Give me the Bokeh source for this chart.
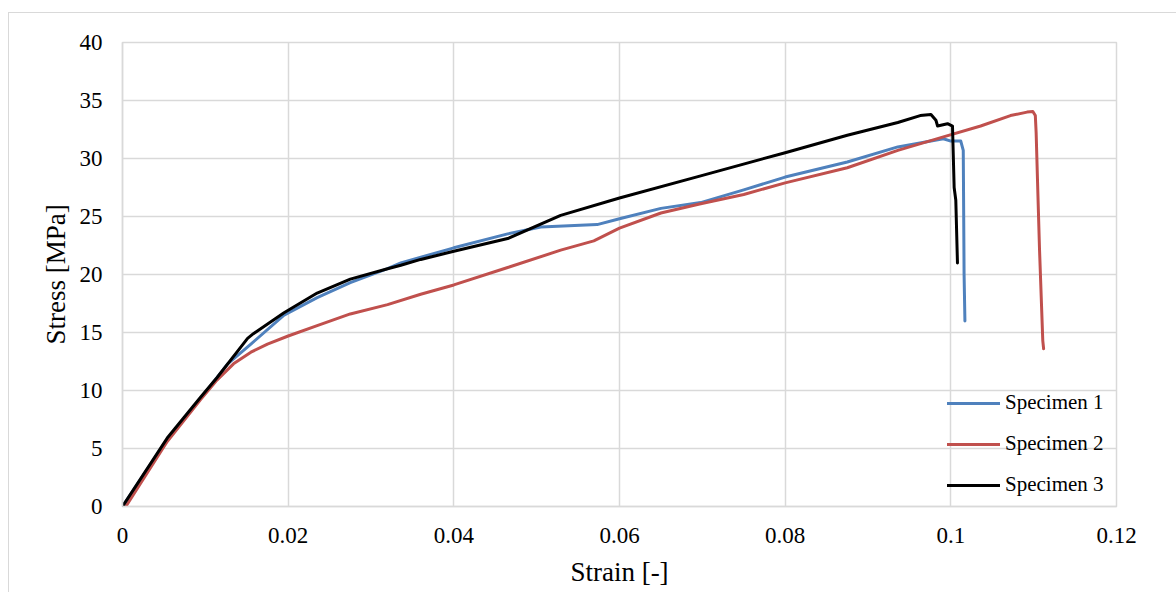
from bokeh.plotting import figure
from bokeh.models import FixedTicker, Legend, LegendItem, InlineStyleSheet
from bokeh.embed import file_html
from bokeh.resources import INLINE

# ---- data ----
s1_strain = [0, 0.0054, 0.0094, 0.0127, 0.0155, 0.0195, 0.0235, 0.0275, 0.032, 0.0336,
             0.040, 0.0465, 0.0505, 0.0573, 0.060, 0.065, 0.0698, 0.075, 0.080, 0.0875,
             0.0936, 0.0991, 0.1000, 0.1012, 0.1015, 0.1016, 0.1017]
s1_stress = [0, 5.8, 9.3, 12.3, 14.0, 16.5, 18.0, 19.3, 20.5, 21.0,
             22.3, 23.5, 24.1, 24.3, 24.8, 25.7, 26.2, 27.3, 28.4, 29.7,
             31.0, 31.7, 31.5, 31.5, 30.7, 20.0, 16.0]

s2_strain = [0.0004, 0.0054, 0.0094, 0.0114, 0.0134, 0.0155, 0.0175, 0.020, 0.0235, 0.0275,
             0.032, 0.036, 0.040, 0.0465, 0.0529, 0.0569, 0.060, 0.065, 0.0698,
             0.075, 0.080, 0.0875, 0.0936, 0.0988, 0.1036, 0.1072, 0.1092, 0.1099, 0.1102,
             0.1103, 0.1105, 0.1107, 0.1111, 0.1112]
s2_stress = [0, 5.6, 9.2, 10.9, 12.3, 13.3, 14.0, 14.7, 15.6, 16.6,
             17.4, 18.3, 19.1, 20.6, 22.1, 22.9, 24.0, 25.3, 26.1,
             26.9, 27.9, 29.2, 30.7, 31.8, 32.8, 33.7, 34.0, 34.05, 33.7,
             32.2, 27.2, 22.3, 14.3, 13.6]

s3_strain = [0, 0.0054, 0.0094, 0.0114, 0.0151, 0.0158, 0.0195, 0.0235, 0.0275, 0.032,
             0.0336, 0.036, 0.040, 0.0465, 0.0529, 0.060, 0.0698, 0.080, 0.0875, 0.0936,
             0.0963, 0.0976, 0.0982, 0.0984, 0.0996, 0.1002, 0.1004, 0.1006, 0.1008]
s3_stress = [0, 5.9, 9.4, 11.1, 14.5, 14.9, 16.7, 18.4, 19.6, 20.5,
             20.8, 21.3, 22.0, 23.1, 25.1, 26.6, 28.5, 30.5, 32.0, 33.1,
             33.7, 33.8, 33.3, 32.8, 33.0, 32.8, 27.5, 26.4, 21.0]

series_names = ["Specimen 1", "Specimen 2", "Specimen 3"]
series_colors = ["#4F81BD", "#C0504D", "#000000"]

x_ticks = [0, 0.02, 0.04, 0.06, 0.08, 0.10, 0.12]
x_tick_labels = ["0", "0.02", "0.04", "0.06", "0.08", "0.1", "0.12"]
y_ticks = [0, 5, 10, 15, 20, 25, 30, 35, 40]
y_tick_labels = ["0", "5", "10", "15", "20", "25", "30", "35", "40"]

FONT = "Liberation Serif"
GRID = "#d9d9d9"

p = figure(width=1176, height=592, output_backend="svg", toolbar_location=None,
           x_range=(0, 0.12), y_range=(0, 40),
           min_border_left=122, min_border_right=60, min_border_top=42, min_border_bottom=86)

p.stylesheets = [InlineStyleSheet(css=(
    ":host { position: relative; }"
    ":host::before { content: ''; position: absolute; left: 8px; top: 12px; right: -30px; bottom: -30px;"
    " border: 1.5px solid #d9d9d9; pointer-events: none; z-index: 5; }"))]

p.outline_line_color = GRID
p.outline_line_width = 1.5
p.background_fill_color = "white"
p.border_fill_color = "white"

p.xaxis.ticker = FixedTicker(ticks=x_ticks)
p.yaxis.ticker = FixedTicker(ticks=y_ticks)
p.xaxis.major_label_overrides = {t: l for t, l in zip(x_ticks, x_tick_labels)}
p.yaxis.major_label_overrides = {t: l for t, l in zip(y_ticks, y_tick_labels)}

for ax in (p.xaxis, p.yaxis):
    ax.axis_line_color = GRID
    ax.axis_line_width = 1.5
    ax.major_tick_line_color = None
    ax.minor_tick_line_color = None
    ax.major_tick_out = 0
    ax.major_tick_in = 0
    ax.major_label_text_font = FONT
    ax.major_label_text_font_size = "23px"
    ax.major_label_text_color = "#000000"
    ax.axis_label_text_font = FONT
    ax.axis_label_text_font_size = "27px"
    ax.axis_label_text_font_style = "normal"
    ax.axis_label_text_color = "#000000"

p.xaxis.axis_label = "Strain [-]"
p.yaxis.axis_label = "Stress [MPa]"
p.xaxis.major_label_standoff = 21
p.yaxis.major_label_standoff = 20
p.xaxis.axis_label_standoff = 11
p.yaxis.axis_label_standoff = 6

p.xgrid.grid_line_color = GRID
p.ygrid.grid_line_color = GRID
p.xgrid.grid_line_width = 1.5
p.ygrid.grid_line_width = 1.5

renderers = []
for xs, ys, c in zip([s1_strain, s2_strain, s3_strain], [s1_stress, s2_stress, s3_stress], series_colors):
    r = p.line(xs, ys, line_color=c, line_width=3, line_join="round", line_cap="round")
    renderers.append(r)

legend = Legend(items=[LegendItem(label=n, renderers=[r]) for n, r in zip(series_names, renderers)],
                location=(825, 9), orientation="vertical",
                background_fill_alpha=0, border_line_color=None,
                label_text_font=FONT, label_text_font_size="21px", label_text_color="#000000",
                glyph_width=53, glyph_height=20, label_height=20, label_standoff=5,
                spacing=16, padding=0, margin=0)
p.add_layout(legend, "center")

open("out.html", "w").write(file_html(p, INLINE))
